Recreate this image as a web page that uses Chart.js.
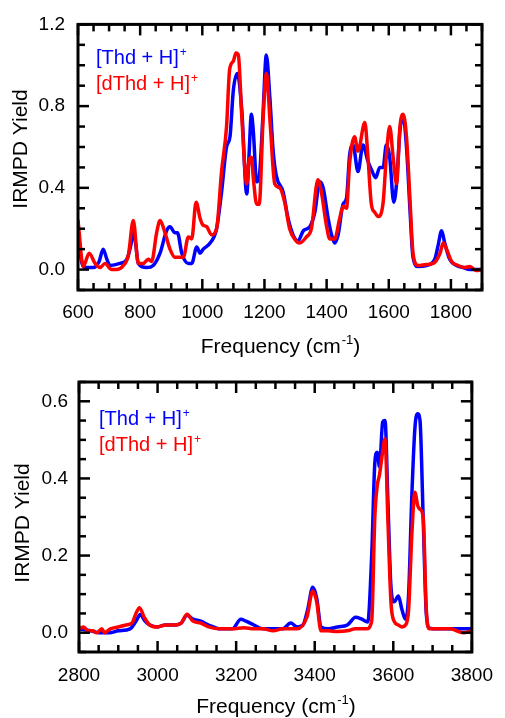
<!DOCTYPE html>
<html>
<head>
<meta charset="utf-8">
<script src="https://cdn.jsdelivr.net/npm/chart.js@4"></script>
<style>
body { margin: 0; background: #fff; }
canvas { position: absolute; left: 0; }
</style>
</head>
<body>
<canvas id="top-chart" width="505" height="359" style="top:0"></canvas>
<canvas id="bottom-chart" width="505" height="359" style="top:359px"></canvas>
<script>
// Fingerprint region, 600-1900 cm-1
const thdTopFreq = [600,610,622,649,668,681,693,703,735,757,770,778,786,794,821,842,864,885,896,912,920,934,955,966,982,993,1003,1025,1046,1062,1078,1089,1100,1113,1127,1143,1150,1158,1164,1175,1183,1195,1206,1217,1228,1238,1260,1276,1292,1308,1325,1346,1362,1378,1389,1405,1416,1426,1437,1453,1464,1474,1485,1501,1517,1533,1544,1558,1571,1582,1592,1603,1616,1625,1636,1646,1657,1668,1678,1694,1721,1748,1759,1770,1780,1796,1818,1839,1861,1882,1900];
const thdTopYield = [0.20,0.05,0.01,0.01,0.04,0.10,0.05,0.02,0.03,0.05,0.12,0.19,0.12,0.03,0.01,0.02,0.08,0.19,0.21,0.18,0.18,0.08,0.03,0.03,0.11,0.08,0.10,0.13,0.20,0.38,0.60,0.65,0.88,0.96,0.78,0.37,0.55,0.76,0.68,0.43,0.45,0.75,1.05,0.85,0.58,0.46,0.38,0.25,0.17,0.14,0.19,0.21,0.28,0.43,0.40,0.25,0.17,0.13,0.17,0.32,0.35,0.56,0.61,0.48,0.61,0.53,0.49,0.45,0.50,0.50,0.61,0.55,0.33,0.42,0.68,0.75,0.60,0.30,0.06,0.015,0.02,0.05,0.12,0.19,0.13,0.05,0.02,0.01,0.0,0.0,0.0];
const dthdTopFreq = [600,617,636,655,671,687,708,724,746,762,778,794,810,826,837,853,864,880,896,912,928,939,955,966,980,993,1001,1014,1030,1046,1062,1078,1088,1100,1108,1116,1127,1143,1150,1158,1164,1175,1183,1196,1206,1219,1233,1249,1265,1281,1297,1313,1335,1351,1372,1383,1399,1410,1426,1442,1453,1464,1474,1490,1501,1523,1533,1544,1555,1566,1582,1592,1603,1614,1625,1636,1646,1657,1668,1678,1694,1721,1743,1765,1775,1786,1802,1823,1845,1861,1882,1900];
const dthdTopYield = [0.24,0.015,0.08,0.03,0.01,0.03,0.0,0.0,0.02,0.07,0.24,0.03,0.03,0.05,0.04,0.18,0.24,0.18,0.10,0.06,0.06,0.06,0.16,0.15,0.33,0.25,0.22,0.21,0.17,0.20,0.48,0.70,0.98,1.02,1.06,1.05,0.75,0.42,0.53,0.55,0.45,0.32,0.32,0.75,0.96,0.70,0.42,0.40,0.33,0.20,0.15,0.13,0.16,0.20,0.44,0.38,0.22,0.15,0.15,0.25,0.31,0.30,0.52,0.65,0.58,0.72,0.55,0.32,0.28,0.26,0.33,0.55,0.70,0.55,0.42,0.70,0.76,0.65,0.35,0.08,0.02,0.025,0.03,0.08,0.13,0.10,0.04,0.02,0.01,0.015,-0.005,0.0];

// Stretch region, 2800-3800 cm-1
const thdBotFreq = [2800,2830,2850,2880,2900,2930,2945,2956,2968,2980,3000,3020,3040,3060,3075,3090,3110,3130,3160,3190,3212,3225,3245,3269,3294,3318,3339,3355,3370,3382,3395,3405,3416,3434,3458,3483,3504,3520,3535,3545,3553,3559,3565,3573,3579,3586,3594,3602,3613,3622,3631,3639,3647,3655,3662,3668,3676,3684,3692,3713,3745,3778,3800];
const thdBotYield = [0.01,0.005,0.0,0.0,0.005,0.01,0.03,0.047,0.03,0.02,0.015,0.02,0.02,0.025,0.045,0.035,0.03,0.02,0.01,0.01,0.035,0.03,0.02,0.01,0.01,0.01,0.025,0.015,0.02,0.06,0.118,0.09,0.015,0.01,0.015,0.02,0.04,0.035,0.028,0.20,0.44,0.468,0.43,0.546,0.55,0.35,0.12,0.08,0.095,0.06,0.035,0.10,0.35,0.53,0.568,0.55,0.30,0.05,0.012,0.01,0.01,0.01,0.01];
const dthdBotFreq = [2800,2812,2822,2835,2845,2858,2865,2880,2900,2920,2935,2945,2954,2966,2980,3000,3020,3040,3060,3075,3090,3110,3130,3160,3190,3220,3245,3269,3294,3318,3355,3380,3395,3405,3416,3434,3458,3483,3504,3532,3545,3553,3559,3565,3573,3579,3586,3594,3602,3613,3622,3631,3639,3647,3655,3662,3668,3676,3684,3692,3713,3745,3778,3800];
const dthdBotYield = [0.01,0.015,0.005,0.005,0.0,0.01,0.0,0.01,0.015,0.02,0.025,0.05,0.065,0.04,0.02,0.015,0.02,0.02,0.025,0.048,0.03,0.025,0.015,0.01,0.01,0.013,0.01,0.01,0.005,0.01,0.01,0.04,0.108,0.08,0.005,0.005,0.003,0.005,0.01,0.01,0.03,0.30,0.38,0.41,0.47,0.503,0.30,0.08,0.03,0.02,0.015,0.02,0.06,0.25,0.364,0.33,0.32,0.30,0.06,0.01,0.01,0.01,0.0,0.005];

const topXTicks = [600, 800, 1000, 1200, 1400, 1600, 1800];
const topYTicks = [0.0, 0.4, 0.8, 1.2];
const botXTicks = [2800, 3000, 3200, 3400, 3600, 3800];
const botYTicks = [0.0, 0.2, 0.4, 0.6];

const seriesNames = ['[Thd + H]', '[dThd + H]'];
const seriesColors = ['#0000ff', '#ff0000'];

const FONT = '"Liberation Sans", Arial, sans-serif';

function toPoints(xs, ys) {
    return xs.map((x, i) => ({ x: x, y: ys[i] }));
}

function isMajor(v, step) {
    const r = v / step;
    return Math.abs(r - Math.round(r)) < 1e-6;
}

// box, inward ticks, axis titles and the little legend
const framePlugin = {
    id: 'frame',
    afterDraw(chart, args, o) {
        const { ctx, chartArea: a, scales } = chart;
        const x = scales.x, y = scales.y;
        ctx.save();
        ctx.strokeStyle = '#000';
        ctx.lineCap = 'butt';
        ctx.lineWidth = 2.5;

        const seg = (x1, y1, x2, y2) => {
            ctx.beginPath(); ctx.moveTo(x1, y1); ctx.lineTo(x2, y2); ctx.stroke();
        };

        let n = Math.round((x.max - x.min) / o.xMinor);
        for (let i = 0; i <= n; i++) {
            const v = x.min + i * o.xMinor;
            const px = x.getPixelForValue(v);
            const len = isMajor(v, o.xMajor) ? o.major : o.minor;
            seg(px, a.bottom, px, a.bottom - len);
            seg(px, a.top, px, a.top + len);
        }
        n = Math.round((y.max - y.min) / o.yMinor);
        for (let i = 0; i <= n; i++) {
            const v = y.min + i * o.yMinor;
            const py = y.getPixelForValue(v);
            const len = isMajor(v, o.yMajor) ? o.major : o.minor;
            seg(a.left, py, a.left + len, py);
            seg(a.right, py, a.right - len, py);
        }

        ctx.lineWidth = 3;
        ctx.strokeRect(a.left, a.top, a.right - a.left, a.bottom - a.top);

        // y title
        ctx.fillStyle = '#000';
        ctx.font = '21px ' + FONT;
        ctx.textAlign = 'center';
        ctx.textBaseline = 'middle';
        ctx.save();
        ctx.translate(o.yTitleX, o.yTitleY);
        ctx.rotate(-Math.PI / 2);
        ctx.fillText('IRMPD Yield', 0, 0);
        ctx.restore();

        // x title with superscript
        ctx.textAlign = 'left';
        ctx.textBaseline = 'alphabetic';
        const main = 'Frequency (cm';
        ctx.font = '21px ' + FONT;
        const w1 = ctx.measureText(main).width;
        const w3 = ctx.measureText(')').width;
        ctx.font = '13px ' + FONT;
        const w2 = ctx.measureText('-1').width;
        let tx = (a.left + a.right) / 2 - (w1 + w2 + w3) / 2;
        ctx.font = '21px ' + FONT;
        ctx.fillText(main, tx, o.xTitleBase);
        ctx.font = '13px ' + FONT;
        ctx.fillText('-1', tx + w1 + 1, o.xTitleBase - 9);
        ctx.font = '21px ' + FONT;
        ctx.fillText(')', tx + w1 + w2 + 1, o.xTitleBase);

        // legend
        seriesNames.forEach((name, i) => {
            const base = o.legendBase[i];
            ctx.fillStyle = seriesColors[i];
            ctx.font = '20px ' + FONT;
            ctx.fillText(name, o.legendX, base);
            const w = ctx.measureText(name).width;
            ctx.font = '12px ' + FONT;
            ctx.fillText('+', o.legendX + w + 1, base - 8);
        });
        ctx.restore();
    }
};

function makeChart(id, thd, dthd, xr, yr, xTicks, yTicks, box, deco) {
    const canvas = document.getElementById(id);
    return new Chart(canvas, {
        type: 'line',
        data: {
            datasets: [
                { label: seriesNames[1], data: dthd, borderColor: seriesColors[1], order: 0 },
                { label: seriesNames[0], data: thd, borderColor: seriesColors[0], order: 1 }
            ]
        },
        options: {
            responsive: false,
            animation: false,
            events: [],
            elements: {
                line: { borderWidth: 3.5, cubicInterpolationMode: 'monotone', borderJoinStyle: 'round', borderCapStyle: 'round' },
                point: { radius: 0 }
            },
            layout: { padding: { left: 0, right: box.right, top: box.top, bottom: 0 } },
            plugins: {
                legend: { display: false },
                tooltip: { enabled: false },
                frame: deco
            },
            scales: {
                x: {
                    type: 'linear',
                    min: xr[0], max: xr[1],
                    grid: { display: false, drawTicks: false },
                    border: { display: false },
                    afterBuildTicks: s => { s.ticks = xTicks.map(v => ({ value: v })); },
                    afterFit: s => { s.height = box.xHeight; },
                    ticks: {
                        color: '#000',
                        font: { family: FONT, size: 19 },
                        padding: box.xPad,
                        maxRotation: 0,
                        callback: v => String(v)
                    }
                },
                y: {
                    type: 'linear',
                    min: yr[0], max: yr[1],
                    grid: { display: false, drawTicks: false },
                    border: { display: false },
                    afterBuildTicks: s => { s.ticks = yTicks.map(v => ({ value: v })); },
                    afterFit: s => { s.width = box.yWidth; },
                    ticks: {
                        color: '#000',
                        font: { family: FONT, size: 19 },
                        padding: box.yPad,
                        callback: v => Number(v).toFixed(1)
                    }
                }
            }
        },
        plugins: [framePlugin]
    });
}

makeChart('top-chart',
    toPoints(thdTopFreq, thdTopYield), toPoints(dthdTopFreq, dthdTopYield),
    [600, 1900], [-0.1, 1.2], topXTicks, topYTicks,
    { right: 23, top: 21, xHeight: 69, yWidth: 78, xPad: 11, yPad: 13 },
    { xMinor: 50, xMajor: 200, yMinor: 0.1, yMajor: 0.4, major: 11, minor: 7,
      yTitleX: 21, yTitleY: 149, xTitleBase: 353, legendX: 96, legendBase: [64, 90] });

makeChart('bottom-chart',
    toPoints(thdBotFreq, thdBotYield), toPoints(dthdBotFreq, dthdBotYield),
    [2800, 3800], [-0.05, 0.65], botXTicks, botYTicks,
    { right: 20, top: 23, xHeight: 66, yWidth: 79, xPad: 12, yPad: 11 },
    { xMinor: 50, xMajor: 200, yMinor: 0.05, yMajor: 0.2, major: 11, minor: 7,
      yTitleX: 23, yTitleY: 164, xTitleBase: 354, legendX: 99, legendBase: [66, 92] });
</script>
</body>
</html>
